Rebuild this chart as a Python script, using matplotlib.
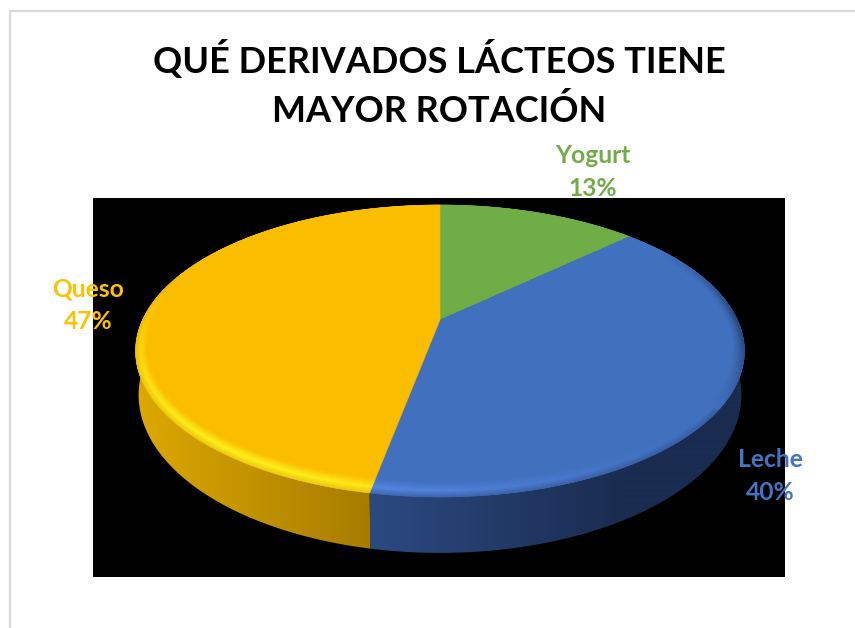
import numpy as np
import matplotlib
matplotlib.use("Agg")
import matplotlib.pyplot as plt
from matplotlib.collections import PolyCollection
from matplotlib.colors import to_rgb
from matplotlib.patches import Polygon

# Data, clockwise from twelve o'clock
categories = ["Yogurt", "Leche", "Queso"]
shares = [13, 40, 47]
title_lines = ["QUÉ DERIVADOS LÁCTEOS TIENE", "MAYOR ROTACIÓN"]

face_colors = {"Yogurt": "#70AD47", "Leche": "#4170BF", "Queso": "#FBBD00"}
label_colors = {"Yogurt": "#70AD47", "Leche": "#4472C4", "Queso": "#FFC000"}
# side wall colours, left end and right end of each slice
wall_colors = {"Yogurt": ("#43682B", "#43682B"),
               "Leche": ("#2C4A82", "#1A2C50"),
               "Queso": ("#DCA800", "#A87C00")}
# brightest colour of the bevel where it faces the light
glow_colors = {"Yogurt": "#8CD058", "Leche": "#5A8CEA", "Queso": "#FFF21E"}
label_pos = {"Yogurt": (593, 172), "Leche": (770, 476), "Queso": (88, 305)}

# pie projection, in pixels
APEX_X, APEX_Y = 440, 320
RADIUS_X, RADIUS_Y = 297.5, 139.4
TILT = 0.212
# the lower disc sits a little narrower and taller than the top one
LOW_DROP = 41.5
LOW_SCALE_X, LOW_SCALE_Y = 0.99, 1.082


def project(theta, r=1.0, drop=0.0, scale_x=1.0, scale_y=1.0):
    """Map a point of the flat disc (theta clockwise from the top) to the tilted pie."""
    u = r * np.sin(theta)
    v = r * np.cos(theta)
    w = 1 + TILT * v
    x = APEX_X + scale_x * RADIUS_X * u / w
    y = APEX_Y - scale_y * RADIUS_Y * v / w + drop
    return x, y


def mix(a, b, t):
    a, b = np.array(to_rgb(a)), np.array(to_rgb(b))
    return tuple(a + (b - a) * np.clip(t, 0, 1))


def bevel_width(theta):
    # roughly the same width in pixels all the way round
    return 0.036 + 0.034 * np.cos(theta) ** 2


def bevel_color(name, theta, t):
    """Colour of the rim at angle theta; t runs from inner (0) to outer (1) edge."""
    face = face_colors[name]
    light = np.cos(theta - np.radians(215))
    # the back of the pie shows almost no bevel
    amount = np.clip((0.55 - np.cos(theta)) / 0.7, 0, 1)
    if light > 0:
        peak = mix(face, glow_colors[name], light ** 2)
        edge = mix(peak, wall_colors[name][0], 0.5)
        col = mix(face, peak, t / 0.6) if t < 0.6 else mix(peak, edge, (t - 0.6) / 0.4)
    else:
        peak = mix(face, "#1F3358" if name == "Leche" else "#8A6A00", -light * 1.6)
        col = mix(face, peak, t ** 1.4)
    return mix(face, col, amount)


# slice limits as angles
values = np.array(shares, dtype=float)
edges = np.concatenate([[0], np.cumsum(values)]) / values.sum() * 2 * np.pi

fig = plt.figure(figsize=(8.55, 6.28), dpi=100, facecolor="white")
ax = fig.add_axes([0, 0, 1, 1])

# chart border and black plot area
ax.plot([10, 10, 855], [628, 10.5, 10.5], color="#D9D9D9", lw=1.6, zorder=1)
ax.fill([93, 785, 785, 93], [198, 198, 577, 577], color="black", lw=0, zorder=1)

# side wall: a horizontal gradient clipped to each slice's outline
ramp_x = np.arange(120, 770)
for i, name in enumerate(categories):
    th = np.linspace(edges[i], edges[i + 1], 200)
    top_x, top_y = project(th)
    low_x, low_y = project(th, drop=LOW_DROP, scale_x=LOW_SCALE_X, scale_y=LOW_SCALE_Y)
    outline = np.column_stack([np.r_[top_x, low_x[::-1]], np.r_[top_y, low_y[::-1]]])
    x0, x1 = (140, 367) if name == "Queso" else (367, 620)
    grad = np.array([[mix(wall_colors[name][0], wall_colors[name][1], (x - x0) / (x1 - x0))
                      for x in ramp_x]])
    im = ax.imshow(grad, extent=[ramp_x[0], ramp_x[-1], 628, 0], aspect="auto", zorder=2)
    im.set_clip_path(Polygon(outline, transform=ax.transData))

# top face
for i, name in enumerate(categories):
    th = np.linspace(edges[i], edges[i + 1], 200)
    x, y = project(th)
    ax.fill(np.r_[APEX_X, x], np.r_[APEX_Y, y], color=face_colors[name], lw=0.4, zorder=3)

# bevel ring around the top face
rings = np.linspace(0, 1, 15)
for i, name in enumerate(categories):
    th = np.linspace(edges[i], edges[i + 1], int(400 * values[i] / 100) + 2)
    polys, cols = [], []
    for a, b in zip(th[:-1], th[1:]):
        wa, wb = bevel_width(a), bevel_width(b)
        for t0, t1 in zip(rings[:-1], rings[1:]):
            polys.append([project(a, 1 - wa * (1 - t0)), project(b, 1 - wb * (1 - t0)),
                          project(b, 1 - wb * (1 - t1)), project(a, 1 - wa * (1 - t1))])
            cols.append(bevel_color(name, (a + b) / 2, (t0 + t1) / 2))
    ax.add_collection(PolyCollection(polys, facecolors=cols, edgecolors=cols, lw=0.3, zorder=4))

# slice labels
font = ["Lato", "DejaVu Sans"]
for name, value in zip(categories, shares):
    lx, ly = label_pos[name]
    ax.text(lx, ly, f"{name}\n{value}%", color=label_colors[name], family=font, weight="bold",
            fontsize=17.7, ha="center", va="center", linespacing=1.52, zorder=6)

# title
ax.text(439, 59, title_lines[0], color="black", family=font, weight="bold", fontsize=26,
        ha="center", va="center", zorder=6)
ax.text(439, 111, title_lines[1], color="black", family=font, weight="bold", fontsize=26,
        ha="center", va="center", zorder=6)

ax.set_xlim(0, 855)
ax.set_ylim(628, 0)
ax.axis("off")

fig.savefig("out.png", dpi=100, facecolor="white")
